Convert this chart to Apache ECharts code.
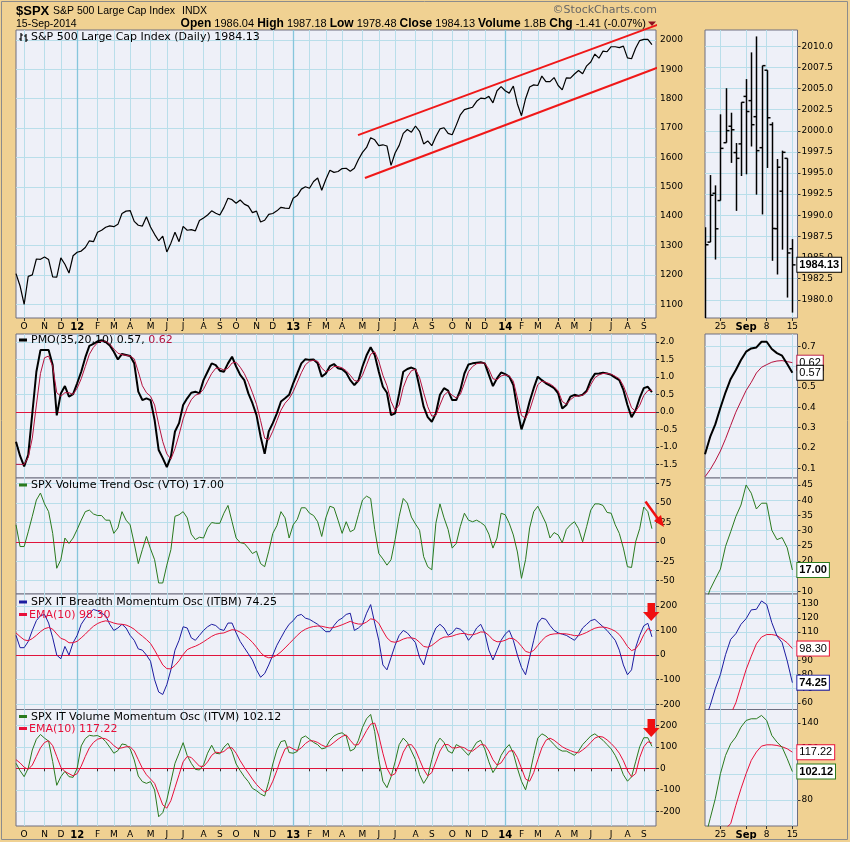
<!DOCTYPE html>
<html><head><meta charset="utf-8"><title>$SPX</title>
<script src="https://cdn.jsdelivr.net/npm/echarts@6.0.0/dist/echarts.min.js"></script>
<style>html,body{margin:0;padding:0;background:#F0D192;}#chart{width:850px;height:842px;}</style>
</head><body><div id="chart"></div>
<script>
// ---------------- DATA ----------------
// weekly samples (Mondays) from 2011-09-19 to 2014-09-15
const weekCount = 157;
const weekCats = [];
for (let i = 0; i <= weekCount; i++) {
  const d = new Date(Date.UTC(2011, 8, 19 + 7 * i));
  weekCats.push(d.toISOString().slice(0, 10));
}
const price = [1204,1162,1099,1195,1200,1254,1253,1261,1252,1193,
1192,1258,1236,1206,1265,1277,1281,1293,1316,1313,
1345,1352,1362,1367,1364,1372,1409,1417,1419,1382,
1369,1366,1398,1363,1338,1316,1332,1278,1308,1345,
1313,1365,1352,1354,1350,1385,1394,1404,1418,1410,
1404,1429,1461,1456,1444,1455,1441,1434,1412,1417,
1380,1386,1406,1409,1418,1430,1427,1426,1461,1470,
1492,1500,1495,1518,1530,1488,1525,1556,1549,1552,
1562,1563,1553,1563,1593,1617,1634,1667,1660,1640,
1643,1639,1573,1615,1641,1682,1695,1686,1707,1689,
1646,1656,1640,1671,1697,1701,1682,1677,1710,1745,
1763,1767,1771,1791,1802,1800,1808,1786,1827,1841,
1827,1819,1843,1782,1742,1800,1840,1847,1845,1877,
1858,1858,1872,1845,1830,1871,1870,1884,1896,1885,
1912,1925,1952,1938,1962,1960,1977,1977,1974,1979,
1939,1936,1972,1998,2002,2002,1984];
const pmo = [-0.85,-1.26,-1.56,-1.23,-0.04,1.15,1.77,1.77,1.77,1.34,
-0.1,0.53,0.74,0.44,0.51,0.82,1.15,1.56,1.89,1.95,
2.02,2.05,2.0,1.9,1.72,1.5,1.66,1.63,1.6,1.39,
0.58,0.34,0.39,0.34,-0.23,-1.09,-1.32,-1.58,-1.28,-0.56,
-0.32,0.2,0.39,0.55,0.58,0.53,0.91,1.15,1.39,1.34,
1.18,1.15,1.39,1.58,1.3,1.06,0.91,0.53,0.25,-0.09,
-0.7,-1.2,-0.56,-0.32,-0.04,0.3,0.39,0.49,0.82,1.1,
1.39,1.51,1.49,1.5,1.39,1.01,1.1,1.31,1.37,1.25,
1.22,1.12,0.91,0.77,0.9,1.3,1.62,1.85,1.63,1.15,
0.72,0.55,-0.09,-0.04,0.53,1.15,1.23,1.27,1.22,0.7,
0.15,-0.15,-0.28,-0.04,0.49,0.68,0.61,0.34,0.34,0.63,
1.1,1.36,1.39,1.41,1.42,1.39,1.06,0.74,0.96,1.13,
1.08,1.01,0.77,0.06,-0.5,-0.15,0.3,0.68,1.01,0.91,
0.82,0.75,0.68,0.53,0.1,0.2,0.44,0.49,0.46,0.49,
0.61,0.91,1.09,1.1,1.12,1.1,1.06,0.98,0.91,0.63,
0.2,-0.15,0.05,0.4,0.68,0.72,0.57];
const pmoSignal = [-1.5,-1.5,-1.5,-1.3,-0.75,0.2,1.1,1.55,1.6,1.3,
0.55,0.45,0.55,0.55,0.5,0.68,0.95,1.3,1.65,1.85,
1.98,2.02,2.02,1.95,1.8,1.68,1.64,1.62,1.6,1.52,
1.15,0.75,0.55,0.45,0.2,-0.35,-0.85,-1.2,-1.35,-1.05,
-0.65,-0.2,0.12,0.35,0.48,0.52,0.65,0.88,1.1,1.25,
1.25,1.2,1.25,1.4,1.42,1.28,1.1,0.85,0.55,0.22,
-0.25,-0.75,-0.8,-0.55,-0.25,0.05,0.25,0.38,0.58,0.85,
1.12,1.35,1.45,1.48,1.45,1.25,1.15,1.2,1.3,1.3,
1.26,1.18,1.05,0.9,0.87,1.05,1.35,1.65,1.72,1.45,
1.05,0.75,0.3,0.05,0.2,0.7,1.0,1.18,1.22,0.98,
0.55,0.15,-0.12,-0.1,0.2,0.48,0.58,0.48,0.4,0.5,
0.82,1.15,1.3,1.38,1.4,1.4,1.22,0.95,0.92,1.03,
1.06,1.03,0.88,0.4,-0.1,-0.18,0.05,0.42,0.78,0.88,
0.85,0.8,0.72,0.6,0.3,0.22,0.35,0.44,0.46,0.48,
0.56,0.78,0.98,1.06,1.1,1.1,1.08,1.02,0.95,0.75,
0.45,0.12,0.02,0.19,0.47,0.61,0.62];
const vto = [22,-6,-6,13,33,54,63,49,39,11,
-34,-23,5,-2,5,16,28,39,41,36,
34,34,28,28,11,18,39,28,22,-2,
-28,-10,7,-9,-23,-53,-53,-30,-10,33,
35,39,31,10,3,6,5,18,25,24,
24,37,47,26,5,-1,-2,-8,-15,-12,
-28,-32,-12,11,21,39,31,5,22,29,
44,44,37,34,26,7,31,46,44,28,
11,26,13,16,35,54,59,56,16,-15,
-22,-30,-23,3,33,56,50,32,23,15,
-19,-32,-36,24,49,31,16,-8,-2,20,
37,28,26,28,25,21,10,-8,5,37,
35,24,9,-13,-47,-23,18,39,46,35,
24,5,12,9,-1,16,22,26,17,0,
20,41,49,49,47,38,37,22,11,-8,
-32,-33,0,17,45,39,17];
const itbm = [80,30,30,55,100,140,160,165,130,70,
0,-15,35,0,50,80,125,150,170,185,
180,170,160,125,100,110,125,110,80,60,
25,20,0,-25,-100,-150,-160,-120,-60,20,
60,115,110,70,60,80,100,115,125,120,
105,100,130,130,90,55,30,5,-20,-60,
-90,-75,-40,0,40,70,100,125,140,160,
165,150,145,135,125,110,95,95,120,140,
150,165,170,100,110,125,170,205,130,60,
-40,-60,-10,40,80,100,90,70,50,-10,
-40,20,70,110,125,110,80,90,110,105,
90,60,80,110,125,90,20,-20,20,60,
85,100,60,0,-50,-80,-10,60,130,150,
145,120,100,90,85,80,70,60,80,110,
125,140,145,130,115,100,80,60,20,-40,
-80,-60,30,80,119,129,74];
const itbmEma = [90,75,62,58,67,80,95,107,112,105,
86,68,62,50,50,56,70,85,102,117,
128,135,139,136,130,126,125,122,115,105,
90,77,63,47,20,-10,-40,-55,-56,-42,
-23,2,22,30,36,44,54,65,76,84,
88,90,97,103,101,93,82,68,52,32,
10,-5,-11,-9,0,13,29,46,63,80,
95,105,112,116,118,117,113,110,112,117,
123,130,137,130,126,126,134,147,144,129,
98,70,55,52,57,65,70,70,66,52,
35,32,39,52,65,73,74,77,83,87,
88,83,82,87,94,93,80,62,54,55,
60,68,67,55,36,15,10,19,39,59,
75,83,86,87,87,86,83,79,79,85,
92,101,109,113,114,111,105,97,83,61,
35,18,25,48,83,108,98];
const itvm = [23,-11,-39,0,85,135,157,140,126,31,
-79,-39,-14,-39,-42,0,104,138,153,150,
152,143,124,98,70,82,113,109,91,39,
-36,-62,-70,-62,-101,-225,-206,-147,-62,23,
70,119,59,23,-5,-8,16,70,107,70,
67,98,116,78,20,-11,-39,-62,-93,-104,
-119,-129,-62,20,85,124,129,73,70,78,
140,150,135,120,110,90,95,130,150,160,
165,150,80,90,130,190,230,250,170,40,
-60,-90,-40,30,110,140,120,80,40,-30,
-70,-40,40,110,140,120,80,70,110,100,
80,60,90,120,130,90,30,-20,10,60,
90,110,70,0,-60,-100,-30,60,140,160,
150,130,110,90,80,80,70,60,80,110,
130,150,160,145,130,110,90,60,20,-30,
-60,-40,30,100,142,142,102];
const itvmEma = [40,25,5,-5,15,55,95,120,128,105,
55,5,-15,-25,-35,-25,10,55,95,120,
135,140,137,125,105,92,95,100,100,80,
40,0,-30,-50,-70,-120,-170,-185,-150,-90,
-30,30,55,50,30,10,8,30,60,75,
72,78,95,95,70,35,5,-22,-50,-75,
-95,-110,-100,-60,-10,45,90,100,90,82,
95,115,128,127,120,108,100,105,120,135,
148,155,130,108,110,140,175,205,210,150,
70,0,-35,-25,20,75,108,110,85,40,
-5,-35,-20,30,80,110,110,95,95,100,
95,82,80,95,110,108,80,40,15,25,
55,80,82,50,0,-50,-60,-20,40,95,
130,140,130,115,100,90,82,75,72,85,
100,120,140,148,145,132,115,95,70,35,
-10,-40,-25,50,100,123,117];
// channel lines drawn on the price chart: [week index, price]
const channelUpper = [[83.9,1676],[159.2,2061]];
const channelLower = [[85.6,1530],[159.2,1915]];

// daily detail (right panels), 2014-08-20 .. 2014-09-15 (+ one empty slot)
const dayCats = ['08-20','08-21','08-22','08-25','08-26','08-27','08-28','08-29','09-02','09-03','09-04','09-05','09-08','09-09','09-10','09-11','09-12','09-15','09-16'];
const dayTickLabels = {3:'25', 8:'Sep', 12:'8', 17:'15'};
const dOpen  = [1980.46,1986.82,1992.60,1991.74,1998.59,2000.54,1997.42,1998.45,2004.07,2003.57,2001.67,1998.00,2007.17,2000.73,1988.41,1992.85,1996.74,1986.04];
const dHigh  = [1988.57,1994.76,1993.54,2001.95,2005.04,2002.14,1998.55,2003.38,2006.12,2009.28,2011.17,2007.71,2007.17,2001.01,1996.66,1997.65,1996.74,1987.18];
const dLow   = [1977.68,1986.82,1984.76,1991.74,1998.59,1996.20,1990.52,1994.65,1994.85,1998.14,1992.44,1990.10,1995.60,1984.61,1982.99,1985.93,1980.26,1978.48];
const dClose = [1986.51,1992.37,1988.40,1997.92,2000.02,2000.12,1996.74,2003.37,2002.28,2000.72,1997.65,2007.71,2001.54,1988.44,1995.69,1997.45,1985.54,1984.13];
const dPmo    = [0.169,0.254,0.316,0.398,0.474,0.540,0.584,0.633,0.674,0.690,0.695,0.723,0.723,0.687,0.667,0.654,0.613,0.57];
const dPmoSig = [0.058,0.093,0.136,0.185,0.245,0.311,0.376,0.430,0.483,0.523,0.569,0.597,0.610,0.622,0.628,0.630,0.625,0.62];
const dVto    = [6,10.6,14,17.3,24.8,29.6,34.6,38.4,45,42.3,37.1,39,39,30.1,27,27.7,24.3,17];
const dItbm   = [48,58,70,80,94,104.8,108.8,115.4,119.4,125.6,126,131.9,129.4,116.6,107.2,102.5,89.6,74.25];
const dItbmEma= [27,31,36,41,46,52,60,71.8,83.5,92.9,101.6,106.4,108.2,108.2,107.5,105.1,102.4,98.3];
const dItvm   = [50,65.6,81,100.5,114.7,123.7,128.9,136.6,141.8,143.1,143.1,145.7,141.8,130.2,125,121.1,112.1,102.12];
const dItvmEma= [35,40,46,52,58,61.7,75.9,88.8,100.5,110.8,117.3,121.9,122.9,122.9,122.4,121.4,119.8,117.22];

// axis tick labels
const priceTicks = [1100,1200,1300,1400,1500,1600,1700,1800,1900,2000];
const pmoTicks = [-1.5,-1,-0.5,0,0.5,1,1.5,2];
const vtoTicks = [-50,-25,0,25,50,75];
const itbmTicks = [-200,-100,0,100,200];
const itvmTicks = [-200,-100,0,100,200];
const dPriceTicks = [1980,1982.5,1985,1987.5,1990,1992.5,1995,1997.5,2000,2002.5,2005,2007.5,2010];
const dPmoTicks = [0.1,0.2,0.3,0.4,0.5,0.6,0.7];
const dVtoTicks = [10,15,20,25,30,35,40,45];
const dItbmTicks = [60,70,80,90,100,110,120,130];
const dItvmTicks = [80,100,120,140];

// ---------------- STYLE / LAYOUT ----------------
const TAN = '#F0D192', PANEL = '#EEF0F8', BORDER = '#6E6E80';
const GRIDC = '#B9DEEA', YEARC = '#86C6DC', ZERO = '#E0143C';
const FONT = 'DejaVu Sans';
const rowTop = [30, 334, 478, 594, 709.5];
const rowH = [288, 144, 116, 115.5, 116.5];
const LEFT = {left:16, width:640}, RIGHT = {left:705, width:92.5};

const grids = [];
[LEFT, RIGHT].forEach(c => rowTop.forEach((t, i) => grids.push({
  left:c.left, width:c.width, top:t, height:rowH[i], show:true,
  backgroundColor:PANEL, borderColor:BORDER, borderWidth:1
})));

const isMonthStart = (i) => i > 0 && weekCats[i].slice(0,7) !== weekCats[i-1].slice(0,7);
const yearStarts = weekCats.filter((d, i) => isMonthStart(i) && d.slice(5,7) === '01');
const isDayTick = (i) => dayTickLabels[i] !== undefined;

function xLeft(g, labels) {
  return {type:'category', gridIndex:g, data:weekCats, boundaryGap:false,
    axisLine:{show:false},
    axisTick:{show:labels, interval:isMonthStart, length:3, lineStyle:{color:'#333'}},
    axisLabel:{show:labels, interval:isMonthStart, margin:4, color:'#000', fontSize:9, fontFamily:FONT,
      formatter:(v) => { const m = +v.slice(5,7); return m === 1 ? '{y|' + v.slice(2,4) + '}' : 'JFMAMJJASOND'[m-1]; },
      rich:{y:{fontWeight:'bold', fontSize:10, fontFamily:FONT, color:'#000'}}},
    splitLine:{show:true, interval:isMonthStart, lineStyle:{color:GRIDC, width:1}}
  };
}
function xRight(g, labels) {
  return {type:'category', gridIndex:g, data:dayCats, boundaryGap:false,
    axisLine:{show:false},
    axisTick:{show:labels, interval:isDayTick, length:3, lineStyle:{color:'#333'}},
    axisLabel:{show:labels, interval:isDayTick, margin:4, color:'#000', fontSize:9, fontFamily:FONT,
      formatter:(v, i) => i === 8 ? '{b|Sep}' : dayTickLabels[i],
      rich:{b:{fontWeight:'bold', fontSize:10, fontFamily:FONT, color:'#000'}}},
    splitLine:{show:true, interval:isDayTick, lineStyle:{color:GRIDC, width:1}}
  };
}
function yAx(g, min, max, vals, dec) {
  return {type:'value', gridIndex:g, position:'right', min, max,
    axisLine:{show:false},
    axisTick:{show:true, customValues:vals, length:3, lineStyle:{color:'#333'}},
    axisLabel:{customValues:vals, margin:4, color:'#000', fontSize:9, fontFamily:FONT,
      formatter:(v) => Number(v).toFixed(dec)},
    splitLine:{show:false}
  };
}
function gridMarks(vals, zero, vertical) {
  const data = vals.filter(v => !(zero && v === 0)).map(v => ({yAxis:v}));
  if (vertical) yearStarts.forEach(d => data.push({xAxis:d, lineStyle:{color:YEARC, width:1.3, type:'solid'}}));
  if (zero) data.push({yAxis:0, lineStyle:{color:ZERO, width:1, type:'solid'}});
  return {silent:true, symbol:['none','none'], label:{show:false}, animation:false,
    lineStyle:{color:GRIDC, width:1, type:'solid'}, data};
}
function line(xi, yi, data, color, width, extra) {
  return Object.assign({type:'line', xAxisIndex:xi, yAxisIndex:yi, data, symbol:'none', z:10,
    lineStyle:{color, width}, itemStyle:{color}, silent:true}, extra || {});
}
function endLbl(color, bold) {
  return {show:true, formatter:(p) => Number(p.value).toFixed(2), distance:5,
    backgroundColor:'#fff', borderColor:color, borderWidth:1, padding:[2,2,1,2],
    color:'#000', fontSize:11, fontWeight:bold ? 'bold' : 'normal', fontFamily:'Liberation Sans'};
}

const series = [
  line(0, 0, price, '#000', 1.2, {markLine:gridMarks(priceTicks, false, true)}),
  line(10, 0, channelUpper, '#F01818', 2, {clip:false}),
  line(10, 0, channelLower, '#F01818', 2, {clip:false}),
  line(1, 1, pmo, '#000', 2, {markLine:gridMarks(pmoTicks, true, true)}),
  line(1, 1, pmoSignal, '#B5123E', 1),
  line(2, 2, vto, '#2A7A1E', 1, {markLine:gridMarks(vtoTicks, true, true)}),
  line(3, 3, itbm, '#1C1CA0', 1, {markLine:gridMarks(itbmTicks, true, true)}),
  line(3, 3, itbmEma, '#E8103A', 1),
  line(4, 4, itvm, '#2A7A1E', 1, {markLine:gridMarks(itvmTicks, true, true)}),
  line(4, 4, itvmEma, '#E8103A', 1),
  {type:'custom', xAxisIndex:5, yAxisIndex:5, clip:true, z:10, silent:true,
    data: dClose.map((c, i) => [i, dOpen[i], dHigh[i], dLow[i], c]),
    encode:{x:0, y:[1,2,3,4]},
    renderItem:(params, api) => {
      const i = api.value(0);
      const h = api.coord([i, api.value(2)]), l = api.coord([i, api.value(3)]);
      const o = api.coord([i, api.value(1)]), c = api.coord([i, api.value(4)]);
      const x = Math.round(h[0]) + 0.5;
      const st = {stroke:'#000', lineWidth:1.5};
      return {type:'group', children:[
        {type:'line', shape:{x1:x, y1:h[1], x2:x, y2:l[1]}, style:st},
        {type:'line', shape:{x1:x-3, y1:o[1], x2:x, y2:o[1]}, style:st},
        {type:'line', shape:{x1:x, y1:c[1], x2:x+3, y2:c[1]}, style:st}]};
    }},
  line(5, 5, dClose, '#000', 1, {lineStyle:{opacity:0}, endLabel:endLbl('#000', true), markLine:gridMarks(dPriceTicks, false, false)}),
  line(6, 6, dPmoSig, '#B5123E', 1, {endLabel:endLbl('#B5123E', false), markLine:gridMarks(dPmoTicks, false, false)}),
  line(6, 6, dPmo, '#000', 2, {endLabel:endLbl('#000', false)}),
  line(7, 7, dVto, '#2A7A1E', 1, {endLabel:endLbl('#2A7A1E', true), markLine:gridMarks(dVtoTicks, false, false)}),
  line(8, 8, dItbmEma, '#E8103A', 1, {endLabel:endLbl('#E8103A', false), markLine:gridMarks(dItbmTicks, false, false)}),
  line(8, 8, dItbm, '#1C1CA0', 1, {endLabel:endLbl('#1C1CA0', true)}),
  line(9, 9, dItvmEma, '#E8103A', 1, {endLabel:endLbl('#E8103A', false), markLine:gridMarks(dItvmTicks, false, false)}),
  line(9, 9, dItvm, '#2A7A1E', 1, {endLabel:endLbl('#2A7A1E', true)})
];

const xAxes = [0,1,2,3,4].map(g => xLeft(g, g === 0 || g === 4))
  .concat([5,6,7,8,9].map(g => xRight(g, g === 5 || g === 9)))
  .concat([{type:'value', gridIndex:0, min:0, max:weekCount, show:false}]);
const yAxes = [
  yAx(0, 1053, 2034, priceTicks, 0),
  yAx(1, -1.89, 2.23, pmoTicks, 1),
  yAx(2, -67.2, 82.4, vtoTicks, 0),
  yAx(3, -221, 248, itbmTicks, 0),
  yAx(4, -268, 273, itvmTicks, 0),
  yAx(5, 1977.84, 2011.93, dPriceTicks, 1),
  yAx(6, 0.052, 0.761, dPmoTicks, 1),
  yAx(7, 9.1, 47.3, dVtoTicks, 0),
  yAx(8, 55.3, 136.8, dItbmTicks, 0),
  yAx(9, 59.9, 150.3, dItvmTicks, 0)
];

// ---------------- TEXT / ANNOTATIONS ----------------
const T = (x, y, text, font, fill, extra) => Object.assign({type:'text', x, y, z:50, silent:true,
  style:Object.assign({text, font, fill: fill || '#000', verticalAlign:'middle'}, extra || {})});
const dash = (x, y, color) => ({type:'rect', z:50, silent:true, shape:{x, y:y-1.5, width:8, height:3}, style:{fill:color}});
const LF = '11px "DejaVu Sans"';
const graphics = [
  {type:'rect', z:60, silent:true, shape:{x:1.5, y:1.5, width:846, height:838}, style:{fill:'none', stroke:'#8C8C8C', lineWidth:1}},
  T(16, 11, '$SPX', 'bold 13px "Liberation Sans"'),
  T(53, 11, 'S&P 500 Large Cap Index', '10.5px "Liberation Sans"'),
  T(182, 11, 'INDX', '10.5px "Liberation Sans"'),
  T(16, 24, '15-Sep-2014', '10.5px "Liberation Sans"'),
  T(646, 24, '{b|Open} 1986.04 {b|High} 1987.18 {b|Low} 1978.48 {b|Close} 1984.13 {b|Volume} 1.8B {b|Chg} -1.41 (-0.07%)',
    '11px "Liberation Sans"', '#000', {align:'right', rich:{b:{font:'bold 12px "Liberation Sans"', fill:'#000'}}}),
  {type:'polygon', z:50, silent:true, shape:{points:[[648,21.5],[656,21.5],[652,26]]}, style:{fill:'#8B1020'}},
  T(657, 10, '\u00A9StockCharts.com', '11px "DejaVu Sans"', '#666', {align:'right'}),
  // price legend glyph
  {type:'polyline', z:50, silent:true, shape:{points:[[21,33],[21,41]]}, style:{stroke:'#000', lineWidth:1.2}},
  {type:'polyline', z:50, silent:true, shape:{points:[[19,39],[21,39]]}, style:{stroke:'#000', lineWidth:1.2}},
  {type:'polyline', z:50, silent:true, shape:{points:[[21,35],[23,35]]}, style:{stroke:'#000', lineWidth:1.2}},
  {type:'polyline', z:50, silent:true, shape:{points:[[26,34],[26,42]]}, style:{stroke:'#000', lineWidth:1.2}},
  {type:'polyline', z:50, silent:true, shape:{points:[[24,36],[26,36]]}, style:{stroke:'#000', lineWidth:1.2}},
  {type:'polyline', z:50, silent:true, shape:{points:[[26,40],[28,40]]}, style:{stroke:'#000', lineWidth:1.2}},
  T(31, 37, 'S&P 500 Large Cap Index (Daily) 1984.13', LF),
  dash(19, 340, '#000'),
  T(31, 340.5, '{a|PMO(35,20,10) 0.57, }{r|0.62}', LF, '#000', {rich:{a:{font:LF, fill:'#000'}, r:{font:LF, fill:'#B5123E'}}}),
  dash(19, 485, '#2A7A1E'),
  T(31, 485.5, 'SPX Volume Trend Osc (VTO) 17.00', LF),
  dash(19, 602, '#1C1CA0'),
  T(31, 602.5, 'SPX IT Breadth Momentum Osc (ITBM) 74.25', LF),
  dash(19, 614.5, '#E8103A'),
  T(29, 615, 'EMA(10) 98.30', LF, '#E8103A'),
  dash(19, 716.5, '#2A7A1E'),
  T(31, 717, 'SPX IT Volume Momentum Osc (ITVM) 102.12', LF),
  dash(19, 728.5, '#E8103A'),
  T(29, 729, 'EMA(10) 117.22', LF, '#E8103A'),
  // red arrows
  {type:'line', z:55, silent:true, shape:{x1:645.5, y1:501.5, x2:658.5, y2:519.5}, style:{stroke:'#F01010', lineWidth:2.5}},
  {type:'polygon', z:55, silent:true, shape:{points:[[654,521],[661,515],[664,527]]}, style:{fill:'#F01010'}},
  {type:'rect', z:55, silent:true, shape:{x:647.5, y:603, width:7.5, height:9}, style:{fill:'#F01010'}},
  {type:'polygon', z:55, silent:true, shape:{points:[[643,612],[659.5,612],[651.2,621]]}, style:{fill:'#F01010'}},
  {type:'rect', z:55, silent:true, shape:{x:647.5, y:719, width:7.5, height:9}, style:{fill:'#F01010'}},
  {type:'polygon', z:55, silent:true, shape:{points:[[643,728],[659.5,728],[651.2,737]]}, style:{fill:'#F01010'}}
];

const chart = echarts.init(document.getElementById('chart'), null, {renderer:'canvas'});
chart.setOption({
  animation:false,
  backgroundColor:TAN,
  grid:grids, xAxis:xAxes, yAxis:yAxes, series, graphic:graphics
});
</script></body></html>
